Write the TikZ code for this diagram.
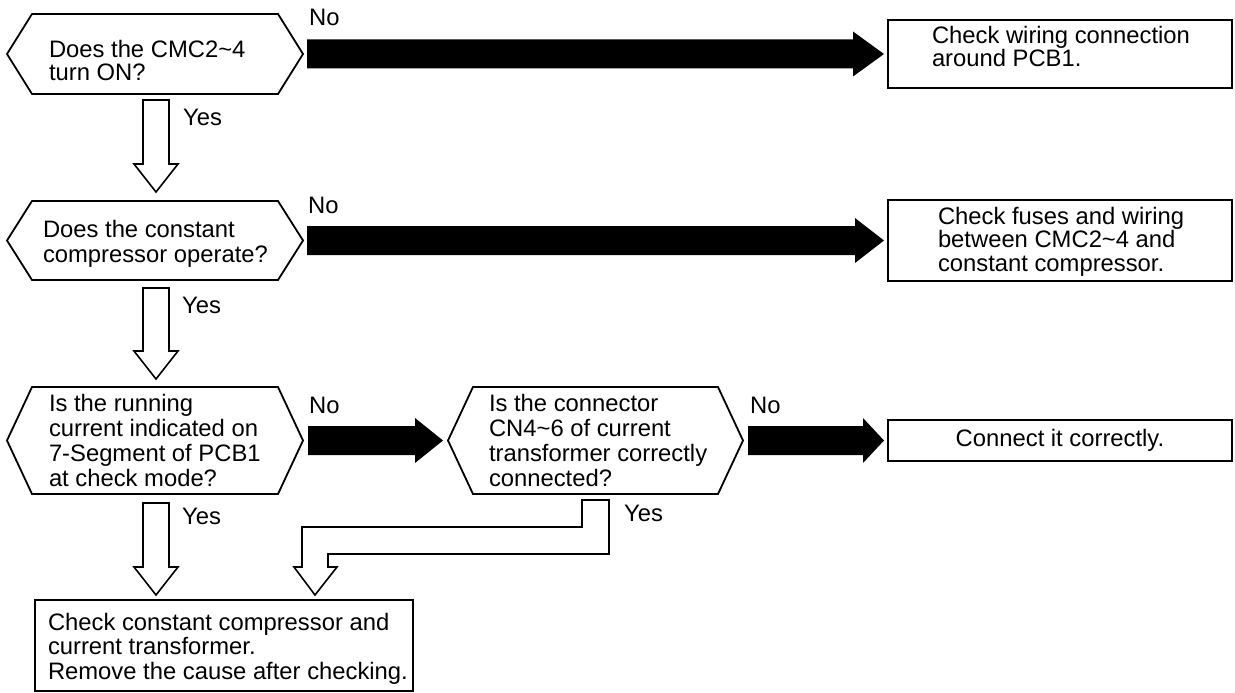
\documentclass[tikz,border=0pt]{standalone}
\usepackage{fontspec}
\setmainfont{Liberation Sans}
\usetikzlibrary{calc}
\newcommand{\fsz}[1]{\fontsize{23.8}{#1}\selectfont}
\tikzset{
  frame/.style={inner sep=0pt, outer sep=0pt, draw=none},
  boxframe/.style={inner sep=0pt, outer sep=0pt, draw=black, line width=1.8pt},
  outline/.style={draw=black, line width=1.8pt, line join=miter},
  hollow/.style={draw=black, line width=1.6pt, fill=white, line join=miter},
  solidarrow/.style={fill=black, draw=none},
  txt/.style={inner sep=0pt, outer sep=0pt, anchor=north west, align=left},
  lbl/.style={inner sep=0pt, anchor=base west, font=\fsz{25}},
}
\newcommand{\hexoutline}[1]{\draw[outline] (#1.west) -- ($(#1.north west)+(25,0)$) -- ($(#1.north east)+(-25,0)$) -- (#1.east) -- ($(#1.south east)+(-25,0)$) -- ($(#1.south west)+(25,0)$) -- cycle;}
% #1 from node, #2 to node, #3 shaft start gap, #4 head length, #5 tip gap
\newcommand{\blockarrow}[5]{\fill[solidarrow] ($(#1.east)+(#3,-14.5)$) -- ($(#2.west)+(-#4,-14.5)$) -- ($(#2.west)+(-#4,-22.5)$) -- ($(#2.west)+(-#5,0)$) -- ($(#2.west)+(-#4,22.5)$) -- ($(#2.west)+(-#4,14.5)$) -- ($(#1.east)+(#3,14.5)$) -- cycle;}
% #1 from node, #2 to node, #3 top gap, #4 tip gap
\newcommand{\hollowdown}[4]{\draw[hollow] ($(#1.south)+(-12,#3)$) -- ($(#1.south)+(14,#3)$) -- ($(#1.south |- #2.north)+(14,-#4-28)$) -- ($(#1.south |- #2.north)+(23,-#4-28)$) -- ($(#1.south |- #2.north)+(1,-#4)$) -- ($(#1.south |- #2.north)+(-21,-#4-28)$) -- ($(#1.south |- #2.north)+(-12,-#4-28)$) -- cycle;}
\begin{document}
\begin{tikzpicture}[x=1pt,y=-1pt]
\useasboundingbox (0,0) rectangle (1235,693);

% decision frames
\node[frame, minimum width=296pt, minimum height=80pt] (q1) at (155,54) {};
\node[frame, minimum width=296pt, minimum height=79pt] (q2) at (155,240.5) {};
\node[frame, minimum width=296pt, minimum height=107pt] (q3) at (155,440.5) {};
\node[frame, minimum width=295pt, minimum height=107pt] (q4) at (595.5,440.5) {};
\hexoutline{q1}
\hexoutline{q2}
\hexoutline{q3}
\hexoutline{q4}

% result boxes
\node[boxframe, minimum width=344pt, minimum height=68pt] (r1) at (1060,54) {};
\node[boxframe, minimum width=344pt, minimum height=81pt] (r2) at (1060,240.5) {};
\node[boxframe, minimum width=344pt, minimum height=41pt, font=\fsz{25}] (r3) at (1060,440.5) {Connect it correctly.};
\node[boxframe, minimum width=378pt, minimum height=91pt] (r4) at (224,645.5) {};

% texts
\node[txt, font=\fsz{23.5}] (t1) at (49,39.8) {Does the CMC2\textasciitilde4\\turn ON?};
\node[txt, font=\fsz{24.5}] (t2) at (43,220.3) {Does the constant\\compressor operate?};
\node[txt, font=\fsz{25}] (t3) at (49,393.8) {Is the running\\current indicated on\\7-Segment of PCB1\\at check mode?};
\node[txt, font=\fsz{25}] (t4) at (489,393.8) {Is the connector\\CN4\textasciitilde6 of current\\transformer correctly\\connected?};
\node[txt, font=\fsz{23.5}] (tr1) at (932,25.8) {Check wiring connection\\around PCB1.};
\node[txt, font=\fsz{23.5}] (tr2) at (938,206.8) {Check fuses and wiring\\between CMC2\textasciitilde4 and\\constant compressor.};
\node[txt, font=\fsz{24.5}] (tr4) at (48,612.8) {Check constant compressor and\\current transformer.\\Remove the cause after checking.};

% No arrows
\blockarrow{q1}{r1}{4}{35}{4}
\blockarrow{q2}{r2}{4}{33}{4}
\blockarrow{q3}{q4}{5}{33}{5}
\blockarrow{q4}{r3}{5}{25}{4}

% Yes arrows
\hollowdown{q1}{q2}{6}{9}
\hollowdown{q2}{q3}{8}{8}
\hollowdown{q3}{r4}{9}{5}
\draw[hollow] ($(q4.south)+(-13.5,6)$) -- ($(q4.south)+(13.5,6)$) -- (609,554) -- (328,554) -- (328,567) -- (337,567) -- ($(r4.north)+(91,-5)$) -- (294,567) -- (302,567) -- (302,527) -- (582,527) -- cycle;

% labels
\node[lbl] (n1) at (309,26) {No};
\node[lbl] (n2) at (308,213.3) {No};
\node[lbl] (n3) at (309,413.3) {No};
\node[lbl] (n4) at (750,413.3) {No};
\node[lbl] (y1) at (183,125) {Yes};
\node[lbl] (y2) at (182,313.3) {Yes};
\node[lbl] (y3) at (182,524) {Yes};
\node[lbl] (y4) at (624,521) {Yes};
\end{tikzpicture}
\end{document}
